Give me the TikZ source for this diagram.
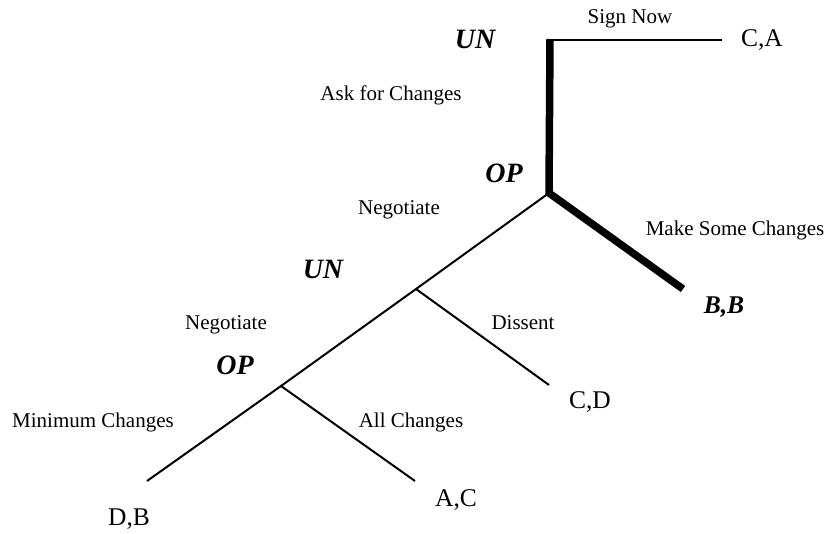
\documentclass[tikz,border=0pt]{standalone}
\usepackage{fontspec}
\setmainfont{Liberation Serif}
\usepackage{tikz}
\usetikzlibrary{positioning}
\tikzset{
  brch/.style={line width=2pt, draw=black},
  eqbrch/.style={line width=7.5pt, draw=black, line join=miter},
  movelbl/.style={inner sep=0pt, font=\fontsize{21}{24}\selectfont},
  payoff/.style={inner sep=0pt, font=\fontsize{25.5}{29}\selectfont},
  player/.style={inner sep=0pt, font=\fontsize{28}{32}\selectfont\bfseries\itshape},
}

\begin{document}
\begin{tikzpicture}[x=1pt, y=-1pt]
\useasboundingbox (0,0) rectangle (830,533);
\coordinate (un1) at (550,40);
\coordinate (op1) at (549,193);
\coordinate (un2) at (416,289);
\coordinate (op2) at (281,386);
\coordinate (e1) at (722,40);
\coordinate (e2) at (683,289);
\coordinate (e3) at (549,385);
\coordinate (e4) at (415,481);
\coordinate (e5) at (147,481);
% branches
\draw[brch] (un1) -- (e1);
\draw[brch] (op1) -- (un2) -- (op2) -- (e5);
\draw[brch] (un2) -- (e3);
\draw[brch] (op2) -- (e4);
\draw[eqbrch] ([yshift=1pt]un1) -- (op1) -- (e2);
% players
\node[player] (pun1) at (475,39) {UN};
\node[player] (pop1) at (504,173) {OP};
\node[player] (pun2) at (323,269) {UN};
\node[player] (pop2) at (235,365) {OP};
% moves
\node[movelbl] (m1) at (630,19) {Sign Now};
\node[movelbl] (m2) at (391,95) {Ask for Changes};
\node[movelbl] (m3) at (735,230) {Make Some Changes};
\node[movelbl] (m4) at (399,210) {Negotiate};
\node[movelbl] (m5) at (523,323) {Dissent};
\node[movelbl] (m6) at (226,325) {Negotiate};
\node[movelbl] (m7) at (93,422) {Minimum Changes};
\node[movelbl] (m8) at (411,422) {All Changes};
% outcomes
\node[payoff] (p1) at (762,40) {C,A};
\node[payoff, font=\fontsize{25.5}{29}\selectfont\bfseries\itshape] (p2) at (724,307) {B,B};
\node[payoff] (p3) at (590,402) {C,D};
\node[payoff] (p4) at (456,500) {A,C};
\node[payoff] (p5) at (129,519) {D,B};
\end{tikzpicture}
\end{document}
